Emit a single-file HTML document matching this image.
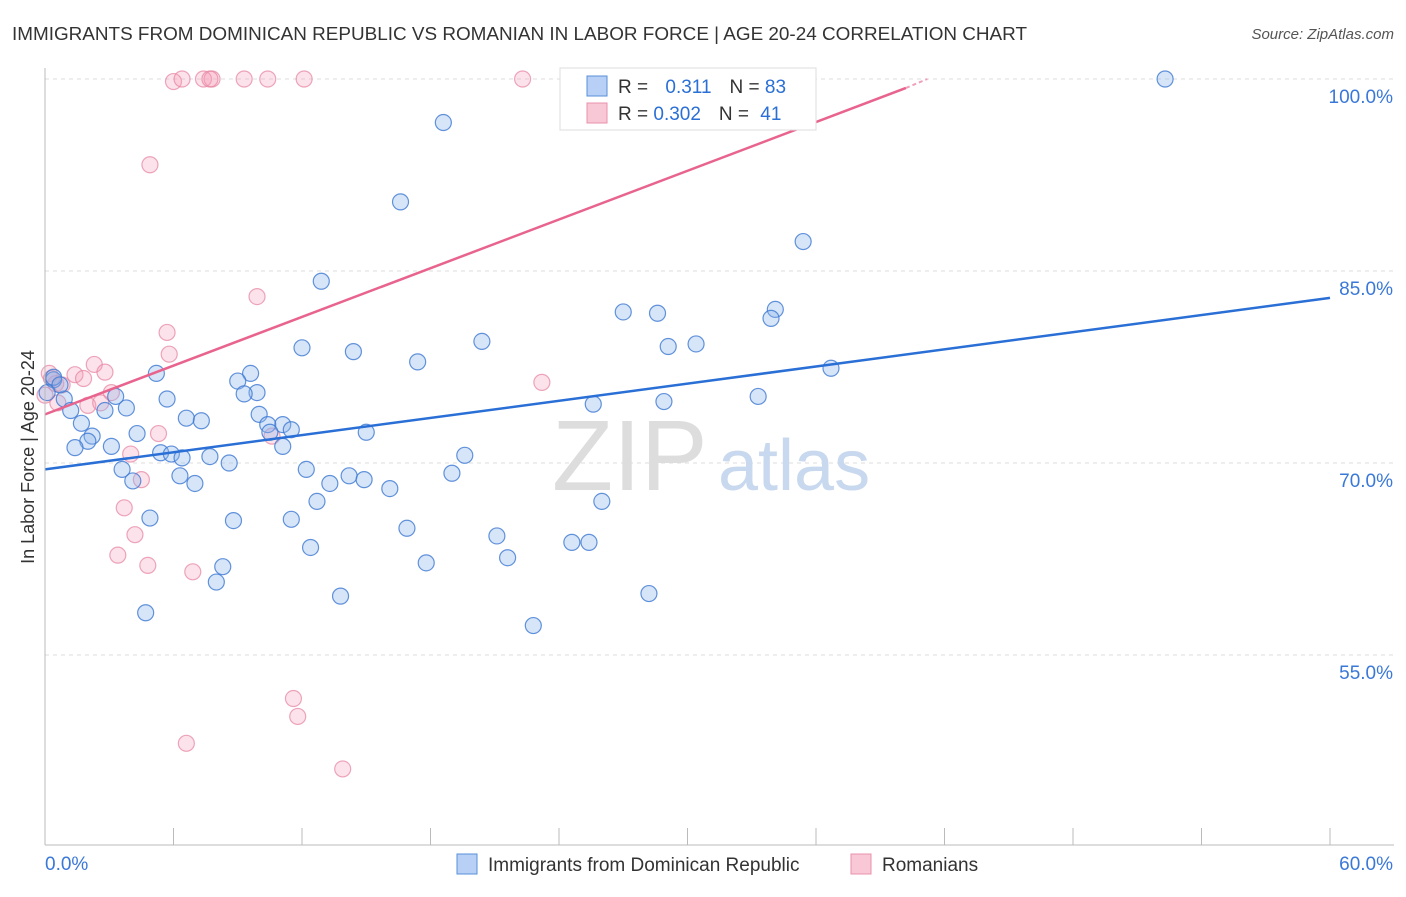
<!DOCTYPE html>
<html><head><meta charset="utf-8"><style>
body{margin:0;background:#fff;font-family:"Liberation Sans",sans-serif}
svg text{font-family:"Liberation Sans",sans-serif}
</style></head><body>
<svg id="chart" width="1406" height="892" xmlns="http://www.w3.org/2000/svg">
<text x="12" y="40" font-size="18.9" fill="#333">IMMIGRANTS FROM DOMINICAN REPUBLIC VS ROMANIAN IN LABOR FORCE | AGE 20-24 CORRELATION CHART</text>
<text x="1394" y="39" font-size="15" fill="#555" font-style="italic" text-anchor="end">Source: ZipAtlas.com</text>
<g id="grid"></g>
<text x="552" y="490" font-size="100" fill="#ddd" font-family="Liberation Serif">ZIP</text>
<text x="718" y="490" font-size="72" fill="#c8d8ee">atlas</text>
<g id="marks"></g>
<g id="axes"></g>
<text transform="translate(34,457) rotate(-90)" font-size="18" fill="#333" text-anchor="middle">In Labor Force | Age 20-24</text>
<g>
<rect x="560" y="68" width="256" height="62" fill="#fff" stroke="#ddd"/>
<rect x="587" y="76" width="20" height="20" fill="#b8d0f5" stroke="#5a8fd8"/>
<rect x="587" y="103" width="20" height="20" fill="#f8c8d6" stroke="#e890aa"/>
<text x="618" y="93" font-size="19" fill="#333">R = <tspan fill="#2a6fd6" dx="12">0.311</tspan><tspan dx="18">N = </tspan><tspan fill="#2a6fd6">83</tspan></text>
<text x="618" y="120" font-size="19" fill="#333">R = <tspan fill="#2a6fd6">0.302</tspan><tspan dx="18">N = </tspan><tspan fill="#2a6fd6" dx="6">41</tspan></text>
</g>
<g>
<rect x="457" y="854" width="20" height="20" fill="#b8d0f5" stroke="#5a8fd8"/>
<text x="488" y="871" font-size="19" fill="#333">Immigrants from Dominican Republic</text>
<rect x="851" y="854" width="20" height="20" fill="#f8c8d6" stroke="#e890aa"/>
<text x="882" y="871" font-size="19" fill="#333">Romanians</text>
</g>
</svg>
<script>
const blueX=[52.3,18.6,16.6,35.4,12.9,27.0,28.6,34.1,33.9,20.4,12.0,14.4,29.1,30.4,17.4,36.7,5.2,9.6,9.0,9.9,9.3,5.7,28.9,33.3,25.6,0.4,0.9,1.2,2.8,3.8,3.3,10.0,6.6,7.3,11.1,10.4,11.5,15.0,4.3,1.7,2.2,2.0,1.4,3.1,10.5,11.1,5.4,5.9,6.4,7.7,8.6,3.6,12.2,19.6,19.0,14.2,14.9,6.3,7.0,4.1,13.3,12.7,16.1,26.0,8.8,11.5,4.9,16.9,21.1,12.4,21.6,17.8,24.6,25.4,8.3,8.0,4.7,13.8,28.2,22.8,0.4,0.7,0.1];
const blueY=[100,96.6,90.4,87.3,84.2,81.8,81.7,82.0,81.3,79.5,79.0,78.7,79.1,79.3,77.9,77.4,77.0,77.0,76.4,75.5,75.4,75.0,74.8,75.2,74.6,76.5,75.0,74.1,74.1,74.3,75.2,73.8,73.5,73.3,73.0,73.0,72.6,72.4,72.3,73.1,72.1,71.7,71.2,71.3,72.4,71.3,70.8,70.7,70.4,70.5,70.0,69.5,69.5,70.6,69.2,69.0,68.7,69.0,68.4,68.6,68.4,67.0,68.0,67.0,65.5,65.6,65.7,64.9,64.3,63.4,62.6,62.2,63.8,63.8,61.9,60.7,58.3,59.6,59.8,57.3,76.7,76.1,75.5];
const pinkX=[6.0,6.4,7.4,7.8,9.3,10.4,12.1,22.3,31.6,35.5,7.7,4.9,9.9,5.7,5.8,0.2,0.5,0.8,1.4,2.3,2.8,1.8,3.1,2.0,0.6,2.6,0.0,5.3,10.6,4.0,4.5,23.2,3.7,4.2,3.4,4.8,6.9,11.6,11.8,6.6,13.9,0.3];
const pinkY=[99.8,100,100,100,100,100,100,100,100,100,100,93.3,83.0,80.2,78.5,77.0,76.2,76.1,76.9,77.7,77.1,76.6,75.5,74.5,74.7,74.7,75.3,72.3,72.1,70.7,68.7,76.3,66.5,64.4,62.8,62.0,61.5,51.6,50.2,48.1,46.1,76.6];
const blueLine=[[0,69.5],[60,82.9]];
const pinkLine=[[0,73.8],[40.2,99.3]];
const pinkDash=[[40.2,99.3],[41.2,100]];
const yTicks=[100,85,70,55];
const xTickLabels=["0.0%","60.0%"];
const X=v=>45+v*1285/60, Y=v=>79+(100-v)*12.8;
const NS="http://www.w3.org/2000/svg";
function mk(t,a,p){const e=document.createElementNS(NS,t);for(const k in a)e.setAttribute(k,a[k]);p.appendChild(e);return e;}
const grid=document.getElementById('grid'),marks=document.getElementById('marks'),axes=document.getElementById('axes');
yTicks.forEach(t=>{
 const l=mk('line',{x1:45,x2:1394,y1:Y(t),y2:Y(t),stroke:'#ddd','stroke-dasharray':'4,4'},grid);
 
 
 const tx=mk('text',{x:1393,y:Y(t)+24,'font-size':19,fill:'#3a78d8','text-anchor':'end'},axes);
 tx.textContent=t.toFixed(1)+'%';
 
 
});
mk('line',{x1:45,x2:45,y1:68,y2:845,stroke:'#bbb'},axes);
mk('line',{x1:45,x2:1394,y1:845,y2:845,stroke:'#bbb'},axes);
for(let i=0;i<=10;i++){const t=mk('line',{x1:X(i*6),x2:X(i*6),y1:828,y2:845,stroke:'#bbb'},axes);
 
 }
[[0,'start',45],[60,'end',1393]].forEach((d,i)=>{const t=mk('text',{x:d[2],y:870,'font-size':19,fill:'#3a78d8','text-anchor':d[1]},axes);t.textContent=xTickLabels[i];
 
 });
pinkX.forEach((x,i)=>{const c=mk('circle',{cx:X(x),cy:Y(pinkY[i]),r:8,fill:'rgba(245,160,185,0.3)',stroke:'rgba(230,130,160,0.7)','stroke-width':1.2},marks);
 
 });
blueX.forEach((x,i)=>{const c=mk('circle',{cx:X(x),cy:Y(blueY[i]),r:8,fill:'rgba(140,180,235,0.35)',stroke:'rgba(60,120,210,0.8)','stroke-width':1.2},marks);
 
 });
const bl=mk('line',{x1:X(blueLine[0][0]),y1:Y(blueLine[0][1]),x2:X(blueLine[1][0]),y2:Y(blueLine[1][1]),stroke:'#2a6fd6','stroke-width':2.5},marks);


const pl=mk('line',{x1:X(pinkLine[0][0]),y1:Y(pinkLine[0][1]),x2:X(pinkLine[1][0]),y2:Y(pinkLine[1][1]),stroke:'#e8648e','stroke-width':2.5},marks);


const pd=mk('line',{x1:X(pinkDash[0][0]),y1:Y(pinkDash[0][1]),x2:X(pinkDash[1][0]),y2:Y(pinkDash[1][1]),stroke:'#f0a0b8','stroke-width':2,'stroke-dasharray':'4,3'},marks);


</script>
</body></html>
